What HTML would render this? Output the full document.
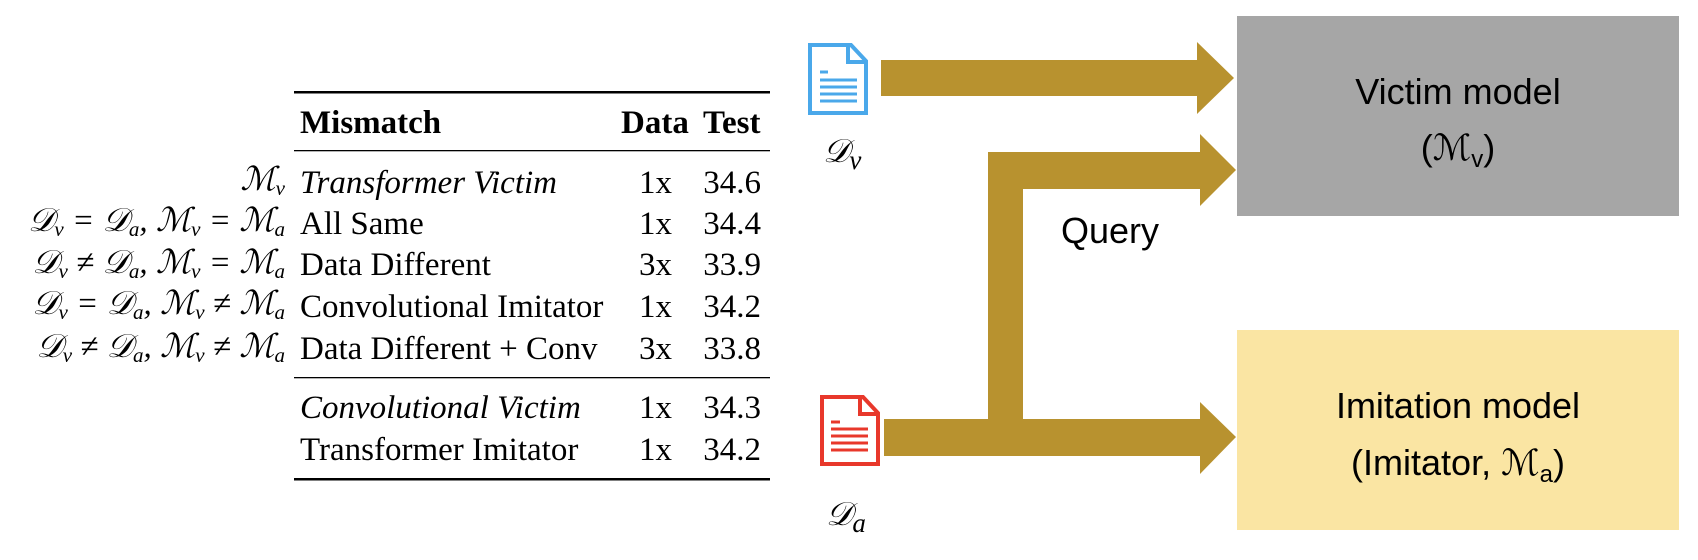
<!DOCTYPE html>
<html><head><meta charset="utf-8"><style>
html,body{margin:0;padding:0;background:#fff;}
svg{display:block;}
.t{font-family:"Liberation Serif",serif;font-size:33px;fill:#000;}
.m{font-family:"Liberation Serif","DejaVu Serif",serif;font-size:33px;font-style:italic;fill:#000;}
.s{font-family:"Liberation Sans",sans-serif;font-size:36px;fill:#000;}
</style></head><body>
<svg width="1698" height="560" viewBox="0 0 1698 560" xmlns="http://www.w3.org/2000/svg">
<rect x="294" y="91" width="476" height="2.5" fill="#000"/>
<rect x="294" y="150" width="476" height="1.3" fill="#000"/>
<rect x="294" y="377" width="476" height="1.3" fill="#000"/>
<rect x="294" y="478" width="476" height="2.5" fill="#000"/>
<g class="t">
<text x="300" y="133" font-weight="bold">Mismatch</text>
<text x="621" y="133" font-weight="bold">Data</text>
<text x="703" y="133" font-weight="bold">Test</text>
<text x="300" y="193" font-style="italic">Transformer Victim</text>
<text x="300" y="234">All Same</text>
<text x="300" y="275">Data Different</text>
<text x="300" y="317">Convolutional Imitator</text>
<text x="300" y="359">Data Different + Conv</text>
<text x="300" y="418" font-style="italic">Convolutional Victim</text>
<text x="300" y="460">Transformer Imitator</text>
<g text-anchor="end">
<text x="672" y="193">1x</text><text x="761" y="193">34.6</text>
<text x="672" y="234">1x</text><text x="761" y="234">34.4</text>
<text x="672" y="275">3x</text><text x="761" y="275">33.9</text>
<text x="672" y="317">1x</text><text x="761" y="317">34.2</text>
<text x="672" y="359">3x</text><text x="761" y="359">33.8</text>
<text x="672" y="418">1x</text><text x="761" y="418">34.3</text>
<text x="672" y="460">1x</text><text x="761" y="460">34.2</text>
</g></g>
<g class="m" text-anchor="end">
<text x="285" y="190">ℳ<tspan font-size="21" dy="5">v</tspan></text>
<text x="285" y="231">𝒟<tspan font-size="21" dy="5">v</tspan><tspan dy="-5"> = 𝒟</tspan><tspan font-size="21" dy="5">a</tspan><tspan dy="-5">, ℳ</tspan><tspan font-size="21" dy="5">v</tspan><tspan dy="-5"> = ℳ</tspan><tspan font-size="21" dy="5">a</tspan></text>
<text x="285" y="273">𝒟<tspan font-size="21" dy="5">v</tspan><tspan dy="-5"> ≠ 𝒟</tspan><tspan font-size="21" dy="5">a</tspan><tspan dy="-5">, ℳ</tspan><tspan font-size="21" dy="5">v</tspan><tspan dy="-5"> = ℳ</tspan><tspan font-size="21" dy="5">a</tspan></text>
<text x="285" y="314">𝒟<tspan font-size="21" dy="5">v</tspan><tspan dy="-5"> = 𝒟</tspan><tspan font-size="21" dy="5">a</tspan><tspan dy="-5">, ℳ</tspan><tspan font-size="21" dy="5">v</tspan><tspan dy="-5"> ≠ ℳ</tspan><tspan font-size="21" dy="5">a</tspan></text>
<text x="285" y="357">𝒟<tspan font-size="21" dy="5">v</tspan><tspan dy="-5"> ≠ 𝒟</tspan><tspan font-size="21" dy="5">a</tspan><tspan dy="-5">, ℳ</tspan><tspan font-size="21" dy="5">v</tspan><tspan dy="-5"> ≠ ℳ</tspan><tspan font-size="21" dy="5">a</tspan></text>
</g>
<rect x="1237" y="16" width="442" height="200" fill="#a6a6a6"/>
<rect x="1237" y="330" width="442" height="200" fill="#fae5a3"/>
<g class="s" text-anchor="middle">
<text x="1458" y="104">Victim model</text>
<text x="1458" y="160">(ℳ<tspan font-size="24" dy="7">v</tspan><tspan dy="-7">)</tspan></text>
<text x="1458" y="418">Imitation model</text>
<text x="1458" y="475">(Imitator, ℳ<tspan font-size="24" dy="7">a</tspan><tspan dy="-7">)</tspan></text>
<text x="1110" y="243">Query</text>
</g>
<g fill="#b8922f">
<polygon points="881,60 1197,60 1197,42 1234,78 1197,114 1197,96 881,96"/>
<polygon points="988,456 988,152 1200,152 1200,134 1236,170 1200,206 1200,189 1023,189 1023,456"/>
<polygon points="884,419 1200,419 1200,402 1236,437 1200,474 1200,456 884,456"/>
</g>
<path d="M810,45 H851 L866,61 V113 H810 Z" fill="none" stroke="#4aa8ea" stroke-width="4"/>
<path d="M848,45 V62 H866" fill="none" stroke="#4aa8ea" stroke-width="4"/>
<g stroke="#4aa8ea" stroke-width="3">
<line x1="820" y1="72" x2="828" y2="72"/><line x1="820" y1="80" x2="857" y2="80"/><line x1="820" y1="87" x2="857" y2="87"/><line x1="820" y1="94" x2="857" y2="94"/><line x1="820" y1="101" x2="857" y2="101"/>
</g>
<path d="M822,397 H863 L878,413 V464 H822 Z" fill="none" stroke="#e8382b" stroke-width="4"/>
<path d="M860,397 V414 H878" fill="none" stroke="#e8382b" stroke-width="4"/>
<g stroke="#e8382b" stroke-width="3">
<line x1="831" y1="422" x2="840" y2="422"/><line x1="831" y1="429" x2="868" y2="429"/><line x1="831" y1="436" x2="868" y2="436"/><line x1="831" y1="443" x2="868" y2="443"/><line x1="831" y1="450" x2="868" y2="450"/>
</g>
<g class="m" font-size="42">
<text x="823" y="162">𝒟<tspan font-size="27" dy="7">v</tspan></text>
<text x="826" y="525">𝒟<tspan font-size="27" dy="7">a</tspan></text>
</g>
</svg>
</body></html>
